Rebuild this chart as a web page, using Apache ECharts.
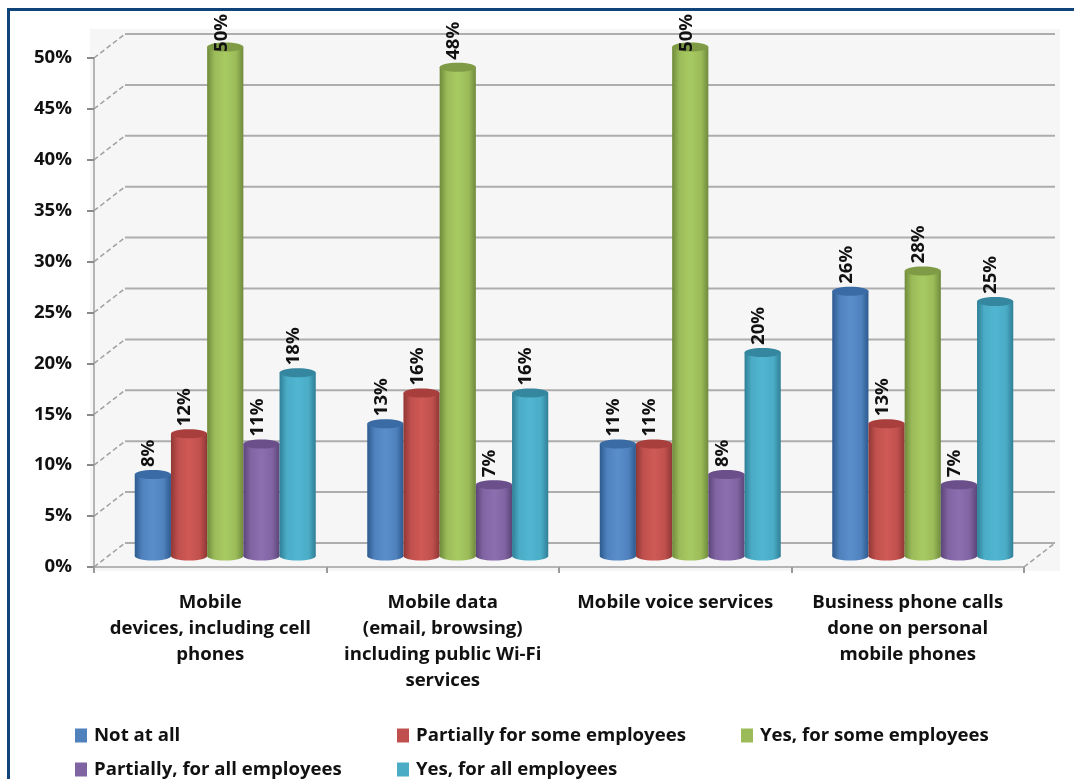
<!DOCTYPE html>
<html>
<head>
<meta charset="utf-8">
<style>
  html, body { margin: 0; padding: 0; background: #fff; }
  #chart { width: 1074px; height: 779px; }
</style>
<script src="https://cdn.jsdelivr.net/npm/echarts@6/dist/echarts.min.js"></script>
</head>
<body>
<div id="chart"></div>
<script>
const categories = [
  'Mobile\ndevices, including cell\nphones',
  'Mobile data\n(email, browsing)\nincluding public Wi-Fi\nservices',
  'Mobile voice services',
  'Business phone calls\ndone on personal\nmobile phones'
];
const notAtAll = [8, 13, 11, 26];
const partiallySome = [12, 16, 11, 13];
const yesSome = [50, 48, 50, 28];
const partiallyAll = [11, 7, 8, 7];
const yesAll = [18, 16, 20, 25];
const seriesNames = [
  'Not at all',
  'Partially for some employees',
  'Yes, for some employees',
  'Partially, for all employees',
  'Yes, for all employees'
];
const seriesValues = [notAtAll, partiallySome, yesSome, partiallyAll, yesAll];
const seriesColors = ['#4f81bd', '#c0504d', '#9bbb59', '#8064a2', '#4bacc6'];
const edgeColors = ['#2d5a8e', '#8f3735', '#6f8a3c', '#5b4578', '#2f7f96'];
const glowColors = ['#5a8ecb', '#cf5a56', '#a8ca62', '#8c6fb0', '#50b6d2'];
const capColors = ['#3a6ba5', '#a83f3c', '#7f9b45', '#6a4f8a', '#34879f'];
const yTicks = [0, 5, 10, 15, 20, 25, 30, 35, 40, 45, 50];

const FONT = '"Open Sans", Lato, sans-serif';
const FONT_SIZE = 18.6;
const TEXT = '#111111';

// Depth of the fake 3D floor and wall, in pixels.
const DEPTH_X = 31;
const DEPTH_Y = 24;
// Cylinders stand in the middle of the floor.
const BAR_SHIFT_X = 15;
const BAR_SHIFT_Y = -11;
const BAR_WIDTH = 36.2;
const CAP_RY = 4.5;
const LABEL_MIN_BOTTOM = 52;

function renderWall(params, api) {
  const cs = params.coordSys;
  return {
    type: 'rect',
    shape: { x: cs.x - 4, y: 29, width: cs.width + 40, height: cs.y + cs.height - 25 },
    style: { fill: '#f6f6f6' },
    silent: true
  };
}

function renderGridLine(params, api) {
  const cs = params.coordSys;
  const tick = api.value(0);
  const p = api.coord([0, tick]);
  const lineColor = '#adadad';
  const obliqueColor = '#a0a0a0';
  const backY = p[1] - DEPTH_Y;
  const backLeft = cs.x + DEPTH_X;
  const backRight = cs.x + cs.width + DEPTH_X;
  const children = [
    {
      type: 'line',
      shape: { x1: cs.x, y1: p[1], x2: backLeft, y2: backY },
      style: { stroke: obliqueColor, lineWidth: 1.5, lineDash: [5, 3] }
    },
    {
      type: 'line',
      shape: { x1: backLeft, y1: backY, x2: backRight, y2: backY },
      style: { stroke: lineColor, lineWidth: 2 }
    }
  ];
  if (tick === 0) {
    // Right-hand floor edge running back from the end of the axis.
    children.push({
      type: 'line',
      shape: { x1: cs.x + cs.width, y1: p[1], x2: backRight, y2: backY },
      style: { stroke: obliqueColor, lineWidth: 1.5, lineDash: [5, 3] }
    });
  }
  return { type: 'group', silent: true, children: children };
}

function renderCylinder(params, api) {
  const si = params.seriesIndex - 2;
  const count = seriesValues.length;
  const value = api.value(1);
  const top = api.coord([api.value(0), value]);
  const zero = api.coord([api.value(0), 0]);
  const cx = zero[0] + BAR_SHIFT_X + (si - (count - 1) / 2) * BAR_WIDTH;
  const topY = top[1] + BAR_SHIFT_Y;
  const baseY = zero[1] + BAR_SHIFT_Y;
  const rx = BAR_WIDTH / 2;
  const shade = {
    type: 'linear', x: 0, y: 0, x2: 1, y2: 0,
    colorStops: [
      { offset: 0, color: edgeColors[si] },
      { offset: 0.2, color: seriesColors[si] },
      { offset: 0.5, color: glowColors[si] },
      { offset: 0.8, color: seriesColors[si] },
      { offset: 1, color: edgeColors[si] }
    ]
  };
  return {
    type: 'group',
    silent: true,
    children: [
      {
        type: 'ellipse',
        shape: { cx: cx, cy: baseY, rx: rx, ry: CAP_RY },
        style: { fill: shade }
      },
      {
        type: 'rect',
        shape: { x: cx - rx, y: topY, width: BAR_WIDTH, height: baseY - topY },
        style: { fill: shade }
      },
      {
        type: 'ellipse',
        shape: { cx: cx, cy: topY, rx: rx, ry: CAP_RY },
        style: { fill: capColors[si] }
      },
      {
        type: 'text',
        x: cx - 4,
        y: Math.max(topY - CAP_RY - 3, LABEL_MIN_BOTTOM),
        rotation: Math.PI / 2,
        style: {
          text: value + '%',
          font: 'bold ' + FONT_SIZE + 'px ' + FONT,
          fill: TEXT,
          align: 'left',
          verticalAlign: 'middle'
        }
      }
    ]
  };
}

const legendSlots = [
  { left: 75, top: 726 },
  { left: 397, top: 726 },
  { left: 741, top: 726 },
  { left: 75, top: 760 },
  { left: 397, top: 760 }
];

const option = {
  animation: false,
  backgroundColor: '#ffffff',
  grid: { left: 94, right: 50, top: 58, bottom: 212, containLabel: false },
  xAxis: {
    type: 'category',
    data: categories,
    axisLine: { lineStyle: { color: '#b5b5b5', width: 2 } },
    axisTick: { show: true, alignWithLabel: false, length: 6, lineStyle: { color: '#9a9a9a', width: 2 } },
    axisLabel: {
      interval: 0,
      margin: 23,
      color: TEXT,
      fontFamily: FONT,
      fontWeight: 'bold',
      fontSize: FONT_SIZE,
      lineHeight: 26,
      verticalAlign: 'top'
    },
    splitLine: { show: false }
  },
  yAxis: {
    type: 'value',
    min: 0,
    max: 50,
    interval: 5,
    axisLine: { show: true, lineStyle: { color: '#b5b5b5', width: 2 } },
    axisTick: { show: true, length: 7, lineStyle: { color: '#8a8a8a', width: 2 } },
    axisLabel: {
      margin: 22,
      color: TEXT,
      fontFamily: FONT,
      fontWeight: 'bold',
      fontSize: FONT_SIZE,
      formatter: '{value}%'
    },
    splitLine: { show: false }
  },
  legend: seriesNames.map(function (name, i) {
    return {
      data: [name],
      orient: 'horizontal',
      left: legendSlots[i].left,
      top: legendSlots[i].top,
      padding: 0,
      itemWidth: 12,
      itemHeight: 14,
      itemGap: 0,
      icon: 'rect',
      selectedMode: false,
      textStyle: {
        color: TEXT,
        fontFamily: FONT,
        fontWeight: 'bold',
        fontSize: FONT_SIZE,
        padding: [0, 0, 0, 2]
      }
    };
  }),
  graphic: [
    {
      type: 'polyline',
      shape: { points: [[8.5, 779], [8.5, 9.5], [1074, 9.5]] },
      style: { stroke: '#0f4478', lineWidth: 3, fill: null },
      silent: true,
      z: 100
    }
  ],
  series: [
    {
      type: 'custom',
      name: 'wall',
      z: 0,
      silent: true,
      coordinateSystem: 'cartesian2d',
      data: [[0, 0]],
      renderItem: renderWall
    },
    {
      type: 'custom',
      name: 'gridlines',
      z: 1,
      silent: true,
      coordinateSystem: 'cartesian2d',
      data: yTicks.map(function (t) { return [t]; }),
      encode: { y: 0 },
      renderItem: renderGridLine
    }
  ].concat(seriesNames.map(function (name, s) {
    return {
      type: 'custom',
      name: name,
      z: 3,
      silent: true,
      coordinateSystem: 'cartesian2d',
      itemStyle: { color: seriesColors[s] },
      encode: { x: 0, y: 1 },
      data: seriesValues[s].map(function (v, i) { return [i, v]; }),
      renderItem: renderCylinder
    };
  }))
};

const chart = echarts.init(document.getElementById('chart'), null, { renderer: 'canvas' });
chart.setOption(option);
</script>
</body>
</html>
